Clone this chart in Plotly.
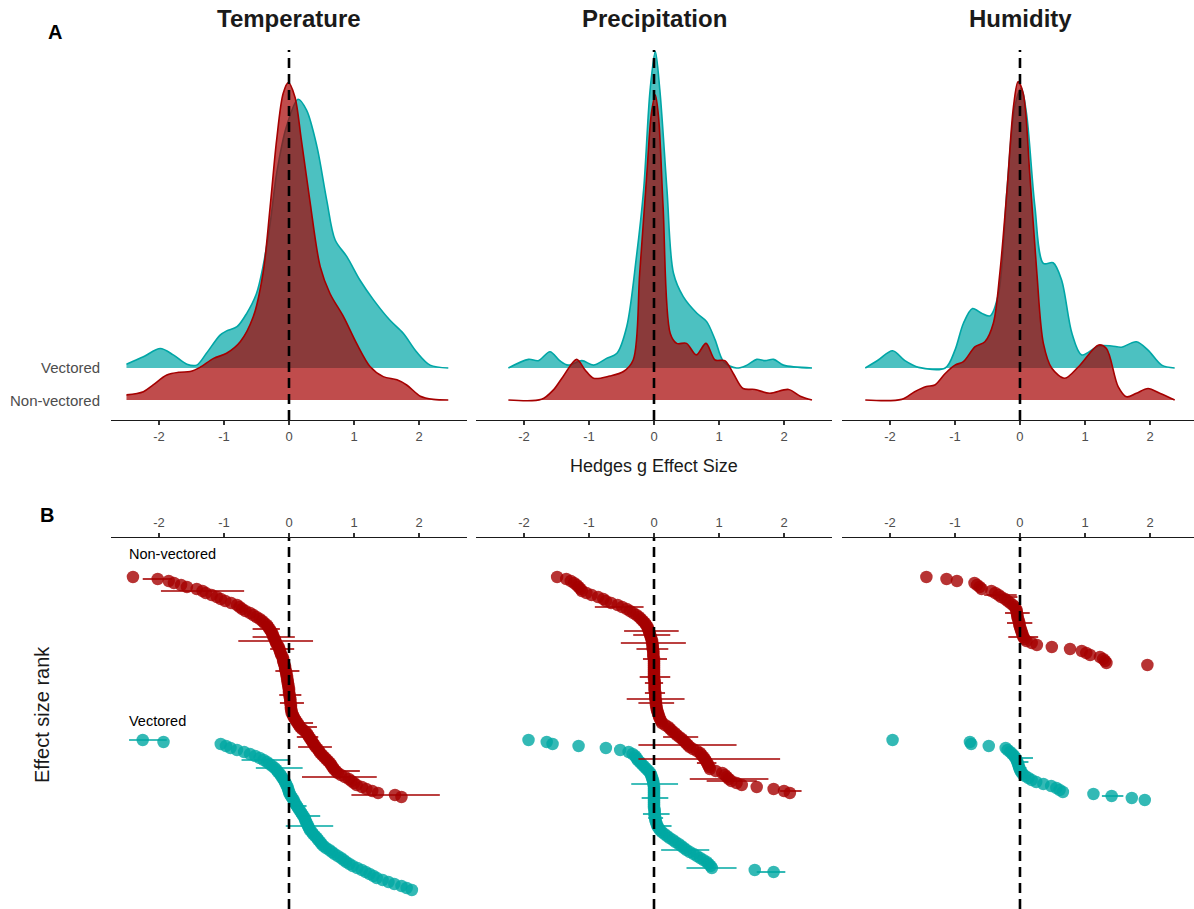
import plotly.graph_objects as go

# ---------------- data ----------------
panels = ["Temperature", "Precipitation", "Humidity"]
groups = ["Vectored", "Non-vectored"]
tick_vals = [-2, -1, 0, 1, 2]
tick_text = ["-2", "-1", "0", "1", "2"]

# Panel A: density curves (x, height above ridge baseline)
temp_v_dx = [-2.50, -2.24, -1.98, -1.78, -1.57, -1.42, -1.27, -1.06, -0.96, -0.80, -0.65, -0.50, -0.40, -0.29, -0.19,
             -0.04, 0.14, 0.27, 0.43, 0.58, 0.71, 0.89, 1.09, 1.30, 1.55, 1.76, 1.96, 2.17, 2.45]
temp_v_dh = [0.12, 0.35, 0.61, 0.41, 0.12, 0.09, 0.46, 1.03, 1.16, 1.29, 1.71, 2.33, 3.17, 4.52, 6.08,
             7.54, 8.40, 8.06, 6.92, 5.25, 4.00, 3.48, 2.75, 2.13, 1.50, 1.08, 0.51, 0.09, 0.00]
temp_nv_dx = [-2.50, -2.24, -2.09, -1.88, -1.68, -1.52, -1.37, -1.16, -0.96, -0.75, -0.55, -0.40, -0.29, -0.19, -0.09,
              -0.01, 0.09, 0.19, 0.32, 0.48, 0.63, 0.84, 1.04, 1.25, 1.45, 1.66, 1.81, 2.02, 2.22, 2.45]
temp_nv_dh = [0.16, 0.26, 0.47, 0.78, 0.87, 0.89, 1.02, 1.30, 1.46, 1.82, 2.60, 3.96, 6.04, 8.13, 9.58,
              9.92, 9.48, 8.13, 6.25, 4.17, 3.33, 2.60, 1.77, 1.04, 0.73, 0.63, 0.47, 0.12, 0.02, 0.00]
prec_v_dx = [-2.24, -1.93, -1.78, -1.60, -1.45, -1.32, -1.11, -0.93, -0.73, -0.57, -0.42, -0.27, -0.16, -0.06, 0.02,
             0.09, 0.20, 0.30, 0.45, 0.66, 0.81, 0.94, 1.07, 1.27, 1.43, 1.58, 1.71, 1.84, 1.99, 2.43]
prec_v_dh = [0.00, 0.27, 0.23, 0.51, 0.23, 0.09, 0.23, 0.09, 0.30, 0.46, 1.29, 3.48, 5.56, 8.69, 9.89,
             8.69, 5.56, 2.96, 2.23, 1.71, 1.45, 0.88, 0.20, 0.00, 0.09, 0.27, 0.23, 0.27, 0.09, 0.00]
prec_nv_dx = [-2.24, -1.73, -1.55, -1.40, -1.19, -1.06, -0.93, -0.68, -0.47, -0.32, -0.22, -0.11, -0.04, 0.02, 0.07,
              0.14, 0.25, 0.35, 0.50, 0.65, 0.80, 0.94, 1.09, 1.22, 1.37, 1.55, 1.78, 2.07, 2.25, 2.43]
prec_nv_dh = [0.00, 0.02, 0.31, 0.73, 1.27, 0.94, 0.68, 0.75, 0.89, 1.25, 3.96, 7.08, 8.96, 9.53, 8.85,
              6.04, 2.08, 1.77, 1.77, 1.41, 1.77, 1.25, 1.23, 0.83, 0.36, 0.33, 0.21, 0.33, 0.12, 0.00]
hum_v_dx = [-2.38, -2.18, -1.96, -1.77, -1.56, -1.15, -1.00, -0.87, -0.73, -0.59, -0.46, -0.33, -0.20, -0.08, 0.02,
            0.10, 0.23, 0.36, 0.51, 0.64, 0.80, 0.95, 1.21, 1.41, 1.56, 1.79, 1.97, 2.18, 2.38]
hum_v_dh = [0.00, 0.25, 0.54, 0.23, 0.02, 0.00, 0.56, 1.40, 1.86, 1.71, 1.63, 2.33, 5.56, 8.17, 8.74,
            7.96, 5.04, 3.27, 3.29, 2.75, 1.08, 0.41, 0.69, 0.69, 0.65, 0.82, 0.56, 0.09, 0.00]
hum_nv_dx = [-2.38, -1.82, -1.62, -1.44, -1.31, -1.15, -1.00, -0.87, -0.69, -0.54, -0.41, -0.31, -0.20, -0.10, -0.03,
             0.05, 0.15, 0.26, 0.36, 0.49, 0.69, 0.90, 1.21, 1.33, 1.51, 1.64, 1.79, 1.97, 2.15, 2.38]
hum_nv_dh = [0.00, 0.02, 0.26, 0.42, 0.47, 0.83, 1.09, 1.20, 1.67, 1.82, 2.40, 3.96, 6.56, 9.17, 9.95,
             9.58, 7.08, 3.96, 1.77, 0.99, 0.68, 1.04, 1.72, 1.61, 0.42, 0.10, 0.21, 0.36, 0.21, 0.00]

# Panel B: effect sizes in rank order
temp_nv = [-2.40, -2.02, -1.85, -1.77, -1.66, -1.57, -1.42, -1.33, -1.28, -1.19,
           -1.11, -1.05, -0.98, -0.89, -0.80, -0.76, -0.72, -0.67, -0.60, -0.55,
           -0.50, -0.45, -0.41, -0.38, -0.34, -0.32, -0.30, -0.28, -0.26, -0.25,
           -0.24, -0.22, -0.21, -0.20, -0.18, -0.16, -0.15, -0.14, -0.13, -0.12,
           -0.10, -0.09, -0.09, -0.08, -0.07, -0.06, -0.06, -0.05, -0.04, -0.04,
           -0.03, -0.03, -0.02, -0.02, -0.01, -0.01, 0.00, 0.00, 0.00, 0.01,
           0.01, 0.02, 0.02, 0.02, 0.03, 0.03, 0.03, 0.04, 0.04, 0.06,
           0.07, 0.09, 0.11, 0.13, 0.15, 0.17, 0.20, 0.24, 0.27, 0.29,
           0.31, 0.33, 0.35, 0.37, 0.39, 0.41, 0.44, 0.46, 0.48, 0.51,
           0.54, 0.57, 0.60, 0.63, 0.65, 0.67, 0.69, 0.72, 0.75, 0.80,
           0.86, 0.92, 0.96, 1.00, 1.04, 1.12, 1.19, 1.28, 1.37, 1.63,
           1.73]
temp_v = [-2.25, -1.93, -1.05, -0.97, -0.90, -0.80, -0.69, -0.60, -0.52, -0.45,
          -0.39, -0.34, -0.30, -0.26, -0.22, -0.19, -0.17, -0.14, -0.12, -0.10,
          -0.08, -0.06, -0.05, -0.03, -0.02, -0.01, 0.00, 0.01, 0.03, 0.05,
          0.07, 0.08, 0.10, 0.12, 0.14, 0.16, 0.18, 0.20, 0.22, 0.24,
          0.25, 0.26, 0.28, 0.29, 0.31, 0.32, 0.35, 0.37, 0.40, 0.43,
          0.45, 0.48, 0.50, 0.53, 0.57, 0.62, 0.66, 0.70, 0.75, 0.80,
          0.84, 0.88, 0.93, 0.98, 1.05, 1.12, 1.18, 1.24, 1.30, 1.35,
          1.44, 1.53, 1.62, 1.73, 1.81, 1.89]
prec_nv = [-1.49, -1.35, -1.28, -1.23, -1.19, -1.16, -1.13, -1.11, -1.04, -0.96,
           -0.86, -0.78, -0.74, -0.66, -0.56, -0.49, -0.42, -0.37, -0.32, -0.27,
           -0.23, -0.20, -0.17, -0.14, -0.12, -0.10, -0.09, -0.08, -0.07, -0.06,
           -0.05, -0.04, -0.03, -0.03, -0.02, -0.02, -0.02, -0.01, -0.01, -0.01,
           -0.01, 0.00, 0.00, 0.00, 0.00, 0.00, 0.00, 0.00, 0.00, 0.00,
           0.00, 0.00, 0.01, 0.01, 0.01, 0.01, 0.01, 0.01, 0.02, 0.02,
           0.02, 0.02, 0.03, 0.03, 0.03, 0.04, 0.04, 0.05, 0.06, 0.07,
           0.08, 0.09, 0.11, 0.12, 0.17, 0.22, 0.25, 0.28, 0.32, 0.35,
           0.39, 0.43, 0.46, 0.49, 0.52, 0.55, 0.60, 0.66, 0.71, 0.73,
           0.76, 0.78, 0.80, 0.82, 0.83, 0.85, 0.86, 0.95, 1.05, 1.09,
           1.12, 1.15, 1.19, 1.27, 1.35, 1.58, 1.84, 2.00, 2.09]
prec_v = [-1.93, -1.65, -1.56, -1.16, -0.74, -0.52, -0.39, -0.33, -0.29, -0.27,
          -0.25, -0.22, -0.19, -0.16, -0.13, -0.10, -0.07, -0.05, -0.04, -0.03,
          -0.02, -0.01, -0.01, 0.00, 0.00, 0.00, 0.00, 0.00, 0.00, 0.00,
          0.00, 0.00, 0.00, 0.00, 0.00, 0.01, 0.01, 0.01, 0.01, 0.02,
          0.02, 0.03, 0.04, 0.05, 0.07, 0.09, 0.12, 0.16, 0.20, 0.24,
          0.29, 0.33, 0.38, 0.42, 0.46, 0.50, 0.55, 0.61, 0.66, 0.71,
          0.76, 0.81, 0.84, 0.87, 0.89, 1.55, 1.84]
hum_nv = [-1.44, -1.13, -0.97, -0.70, -0.66, -0.62, -0.59, -0.44, -0.38, -0.33,
          -0.29, -0.23, -0.19, -0.15, -0.11, -0.08, -0.06, -0.05, -0.05, -0.04,
          -0.04, -0.03, -0.02, -0.01, -0.01, 0.00, 0.01, 0.02, 0.03, 0.04,
          0.05, 0.07, 0.10, 0.18, 0.26, 0.49, 0.77, 0.95, 1.02, 1.08,
          1.23, 1.28, 1.31, 1.33, 1.96]
hum_v = [-1.96, -0.77, -0.75, -0.48, -0.22, -0.19, -0.15, -0.12, -0.09, -0.07,
         -0.05, -0.04, -0.03, -0.02, -0.01, 0.00, 0.02, 0.04, 0.08, 0.13,
         0.18, 0.25, 0.36, 0.48, 0.56, 0.61, 0.66, 1.13, 1.41, 1.72, 1.92]

# confidence intervals: (rank, lower, upper)
temp_nv_ci = [(2, -2.25, -1.80), (8, -1.97, -0.69), (27, -0.56, -0.14), (31, -0.56, 0.09), (33, -0.78, 0.37),
              (37, -0.29, 0.08), (48, -0.21, 0.16), (60, -0.15, 0.19), (64, -0.14, 0.23), (74, 0.12, 0.37),
              (76, 0.17, 0.43), (81, 0.12, 0.45), (86, 0.14, 0.66), (98, 0.63, 1.09), (101, 0.20, 1.35),
              (110, 0.96, 2.32)]
temp_v_ci = [(1, -2.46, -1.88), (11, -0.73, 0.02), (15, -0.51, 0.21), (34, 0.04, 0.27), (39, 0.12, 0.48),
             (44, -0.05, 0.68)]
prec_nv_ci = [(16, -0.91, -0.16), (28, -0.46, 0.38), (30, -0.32, 0.25), (34, -0.51, 0.49), (37, -0.27, 0.22),
              (42, -0.17, 0.20), (51, -0.22, 0.25), (54, -0.14, 0.14), (59, -0.14, 0.17), (62, -0.42, 0.47),
              (64, -0.24, 0.31), (81, 0.14, 0.68), (85, -0.24, 1.27), (92, -0.24, 1.94), (94, 0.66, 0.96),
              (102, 0.55, 1.76), (103, 0.81, 1.58), (108, 1.94, 2.27)]
prec_v_ci = [(23, -0.35, 0.37), (30, -0.19, 0.22), (38, -0.17, 0.24), (40, -0.09, 0.14), (44, 0.04, 0.27),
             (56, 0.11, 0.85), (65, 0.50, 1.27), (67, 1.58, 2.02)]
hum_nv_ci = [(10, -0.55, -0.05), (11, -0.28, -0.04), (19, -0.23, 0.15), (24, -0.20, 0.19), (31, -0.18, 0.28)]
hum_v_ci = [(10, -0.15, 0.20), (12, -0.13, 0.13), (15, -0.10, 0.10), (29, 1.26, 1.59)]

# ---------------- style / layout constants ----------------
W, H = 1194, 909
TEAL = "#00A6A6"
TEAL_FILL = "rgba(0,166,166,0.70)"
TEAL_PT = "#00A8A3"
RED = "#A50000"
RED_FILL = "rgba(165,0,0,0.70)"
FONT = "Liberation Sans, Arial, Helvetica, sans-serif"

BASE_V, BASE_NV = 1.0, 0.0     # ridge baselines
VOFF = 81.5                     # rank offset of the vectored group in panel B

XDOM = [[111 / W, 467 / W], [476 / W, 832 / W], [842 / W, 1.0]]
XRNG = [[-2.738, 2.738], [-2.738, 2.738], [-2.738, 2.677]]
TOP_DOM = [1 - 420 / H, 1 - 50 / H]
BOT_DOM = [0.0, 1 - 538 / H]
TOP_YR = [-0.625, 10.94]
BOT_YR = [167, -18.5]

dens = [
    (temp_v_dx, temp_v_dh, temp_nv_dx, temp_nv_dh),
    (prec_v_dx, prec_v_dh, prec_nv_dx, prec_nv_dh),
    (hum_v_dx, hum_v_dh, hum_nv_dx, hum_nv_dh),
]
pts = [
    (temp_v, temp_nv, temp_v_ci, temp_nv_ci),
    (prec_v, prec_nv, prec_v_ci, prec_nv_ci),
    (hum_v, hum_nv, hum_v_ci, hum_nv_ci),
]

fig = go.Figure()


def ax(n):
    return ("x" if n == 1 else f"x{n}"), ("y" if n == 1 else f"y{n}")


def ridge(dx, dh, base, line_col, fill_col, xa, ya):
    fig.add_trace(go.Scatter(x=dx, y=[base] * len(dx), mode="lines",
                             line=dict(width=0, color=fill_col), xaxis=xa, yaxis=ya,
                             hoverinfo="skip", showlegend=False))
    fig.add_trace(go.Scatter(x=dx, y=[base + h for h in dh], mode="lines",
                             line=dict(color=line_col, width=1.6, shape="spline", smoothing=0.9),
                             fill="tonexty", fillcolor=fill_col, xaxis=xa, yaxis=ya,
                             showlegend=False))


def rank_points(vals, start, col, xa, ya):
    ys = [start + i for i in range(len(vals))]
    fig.add_trace(go.Scatter(x=vals, y=ys, mode="markers",
                             marker=dict(size=12.5, color=col, opacity=0.8, line=dict(width=0)),
                             xaxis=xa, yaxis=ya, showlegend=False))


def ci_bars(ci, start, col, xa, ya):
    xs, ys = [], []
    for r, lo, hi in ci:
        y = start + r - 1
        xs += [lo, hi, None]
        ys += [y, y, None]
    fig.add_trace(go.Scatter(x=xs, y=ys, mode="lines", line=dict(color=col, width=1.6),
                             xaxis=xa, yaxis=ya, showlegend=False, hoverinfo="skip"))


for i in range(3):
    # ---- panel A ----
    xa, ya = ax(i + 1)
    vdx, vdh, ndx, ndh = dens[i]
    ridge(vdx, vdh, BASE_V, TEAL, TEAL_FILL, xa, ya)
    ridge(ndx, ndh, BASE_NV, RED, RED_FILL, xa, ya)
    # ---- panel B ----
    xb, yb = ax(i + 4)
    v, nv, vci, nvci = pts[i]
    rank_points(nv, 1, RED, xb, yb)
    rank_points(v, VOFF + 1, TEAL_PT, xb, yb)
    ci_bars(nvci, 1, RED, xb, yb)
    ci_bars(vci, VOFF + 1, TEAL_PT, xb, yb)

axis_common = dict(showgrid=False, zeroline=False, showline=True, linecolor="#1a1a1a", linewidth=1.4,
                   ticks="outside", ticklen=4, tickwidth=1.1, tickcolor="#333333",
                   tickvals=tick_vals, ticktext=tick_text,
                   tickfont=dict(size=13, color="#4d4d4d", family=FONT), fixedrange=True)

layout = dict(width=W, height=H, margin=dict(l=0, r=0, t=0, b=0),
              paper_bgcolor="white", plot_bgcolor="white", showlegend=False,
              font=dict(family=FONT, color="#1a1a1a"))
for i in range(3):
    n = i + 1
    m = i + 4
    layout["xaxis" if n == 1 else f"xaxis{n}"] = dict(axis_common, domain=XDOM[i], range=XRNG[i],
                                                       anchor="y" if n == 1 else f"y{n}", side="bottom")
    layout["yaxis" if n == 1 else f"yaxis{n}"] = dict(domain=TOP_DOM, range=TOP_YR, visible=False,
                                                       anchor="x" if n == 1 else f"x{n}", fixedrange=True)
    layout[f"xaxis{m}"] = dict(axis_common, domain=XDOM[i], range=XRNG[i], anchor=f"y{m}", side="top")
    layout[f"yaxis{m}"] = dict(domain=BOT_DOM, range=BOT_YR, visible=False, anchor=f"x{m}", fixedrange=True)

fig.update_layout(**layout)

# dashed zero lines
shapes = []
for n in range(1, 7):
    xr = "x" if n == 1 else f"x{n}"
    yr = "y domain" if n == 1 else f"y{n} domain"
    shapes.append(dict(type="line", xref=xr, yref=yr, x0=0, x1=0, y0=0, y1=1,
                       line=dict(color="black", width=2.6, dash="10px,6px"), layer="above"))
fig.update_layout(shapes=shapes)

ann = []
title_x = [289, 654, 1020]
for i, t in enumerate(panels):
    ann.append(dict(text=f"<b>{t}</b>", x=title_x[i] / W, y=1 - 18 / H, xref="paper", yref="paper",
                    showarrow=False, xanchor="center", yanchor="middle",
                    font=dict(size=24, color="#1a1a1a", family=FONT)))
ann.append(dict(text="<b>A</b>", x=55 / W, y=1 - 32 / H, xref="paper", yref="paper", showarrow=False,
                xanchor="center", yanchor="middle", font=dict(size=20, color="black", family=FONT)))
ann.append(dict(text="<b>B</b>", x=47 / W, y=1 - 515 / H, xref="paper", yref="paper", showarrow=False,
                xanchor="center", yanchor="middle", font=dict(size=20, color="black", family=FONT)))
# ridge labels
ann.append(dict(text=groups[0], x=102 / W, y=1 - 368 / H, xref="paper", yref="paper", showarrow=False,
                xanchor="right", yanchor="middle", font=dict(size=15, color="#4d4d4d", family=FONT)))
ann.append(dict(text=groups[1], x=102 / W, y=1 - 400 / H, xref="paper", yref="paper", showarrow=False,
                xanchor="right", yanchor="middle", font=dict(size=15, color="#4d4d4d", family=FONT)))
# axis titles
ann.append(dict(text="Hedges g Effect Size", x=654 / W, y=1 - 466 / H, xref="paper", yref="paper",
                showarrow=False, xanchor="center", yanchor="middle",
                font=dict(size=18, color="#1a1a1a", family=FONT)))
ann.append(dict(text="Effect size rank", x=42 / W, y=1 - 715 / H, xref="paper", yref="paper",
                showarrow=False, xanchor="center", yanchor="middle", textangle=-90,
                font=dict(size=20, color="#1a1a1a", family=FONT)))
# group labels in panel B
ann.append(dict(text=groups[1], x=127 / W, y=1 - 554 / H, xref="paper", yref="paper", showarrow=False,
                xanchor="left", yanchor="middle", font=dict(size=14.5, color="black", family=FONT)))
ann.append(dict(text=groups[0], x=127 / W, y=1 - 721 / H, xref="paper", yref="paper", showarrow=False,
                xanchor="left", yanchor="middle", font=dict(size=14.5, color="black", family=FONT)))
fig.update_layout(annotations=ann)

fig.write_html("out.html",
               config={"displayModeBar": False, "staticPlot": True},
               post_script="document.body.style.margin='0px';document.body.style.padding='0px';"
                           "document.documentElement.style.overflow='hidden';")
